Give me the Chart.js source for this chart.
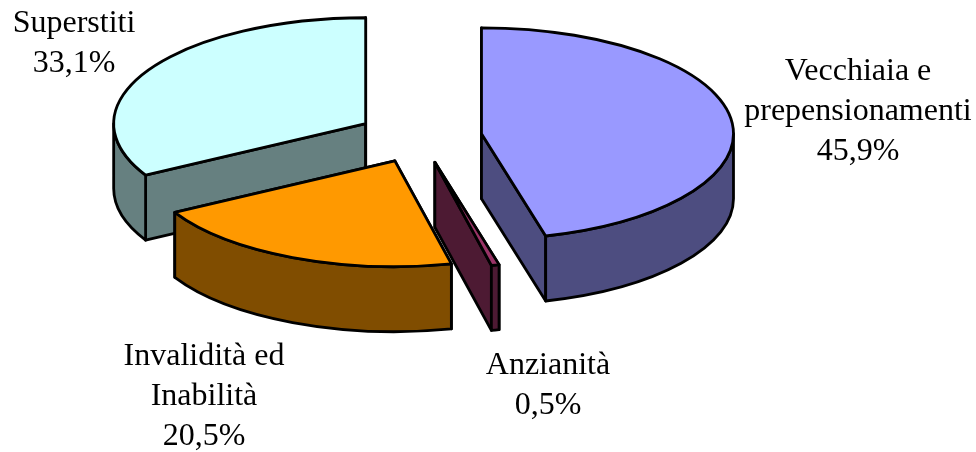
<!DOCTYPE html>
<html>
<head>
<meta charset="utf-8">
<script src="https://cdn.jsdelivr.net/npm/chart.js@4"></script>
<style>
  html, body { margin: 0; padding: 0; background: #fff; }
  canvas { display: block; }
</style>
</head>
<body>
<canvas id="chart" width="976" height="452"></canvas>
<script>
const categories = ["Vecchiaia e prepensionamenti", "Anzianità", "Invalidità ed Inabilità", "Superstiti"];
const values = [45.9, 0.5, 20.5, 33.1];
const topColors = ["#9999ff", "#993366", "#ff9900", "#ccffff"];
const sideColors = ["#4d4d80", "#4d1a33", "#804d00", "#668080"];

// label lines, centre x and first baseline, same order as categories
const labelLines = [["Vecchiaia e", "prepensionamenti"], ["Anzianità"], ["Invalidità ed", "Inabilità"], ["Superstiti"]];
const labelX = [858, 548, 204, 74];
const labelY = [80, 374, 365, 32];

const explode = [62, 62, 62, 63];  // distance each slice is pulled out of the pie
const tilt = 0.42;      // ellipse height / width
const depth = 65;
const lineHeight = 40;
const drawOrder = [3, 0, 2, 1]; // back to front

const pie3d = {
  id: "pie3d",
  beforeDatasetDraw(chart) {
    const ctx = chart.ctx;
    const arcs = chart.getDatasetMeta(0).data;
    ctx.save();
    ctx.lineWidth = 2.8;
    ctx.lineJoin = "round";
    ctx.strokeStyle = "#000";

    drawOrder.forEach((i) => {
      const arc = arcs[i];
      const r = arc.outerRadius;
      const mid = (arc.startAngle + arc.endAngle) / 2;
      const cx = arc.x + Math.cos(mid) * explode[i];
      const cy = arc.y + Math.sin(mid) * explode[i] * tilt;
      const corner = (a) => [cx + Math.cos(a) * r, cy + Math.sin(a) * r * tilt];

      // flat cut walls
      [arc.startAngle, arc.endAngle].forEach((a) => {
        const p = corner(a);
        ctx.beginPath();
        ctx.moveTo(cx, cy);
        ctx.lineTo(p[0], p[1]);
        ctx.lineTo(p[0], p[1] + depth);
        ctx.lineTo(cx, cy + depth);
        ctx.closePath();
        ctx.fillStyle = sideColors[i];
        ctx.fill();
        ctx.stroke();
      });

      // curved outer wall, only the part facing the viewer
      const from = Math.max(arc.startAngle, 0);
      const to = Math.min(arc.endAngle, Math.PI);
      if (to > from) {
        ctx.beginPath();
        ctx.ellipse(cx, cy, r, r * tilt, 0, from, to);
        ctx.ellipse(cx, cy + depth, r, r * tilt, 0, to, from, true);
        ctx.closePath();
        ctx.fillStyle = sideColors[i];
        ctx.fill();
        ctx.stroke();
      }

      // top face
      ctx.beginPath();
      ctx.moveTo(cx, cy);
      ctx.ellipse(cx, cy, r, r * tilt, 0, arc.startAngle, arc.endAngle);
      ctx.closePath();
      ctx.fillStyle = topColors[i];
      ctx.fill();
      ctx.stroke();
    });

    ctx.fillStyle = "#000";
    ctx.font = '32px "Liberation Serif"';
    ctx.textAlign = "center";
    ctx.textBaseline = "alphabetic";
    categories.forEach((c, i) => {
      const lines = labelLines[i].concat(values[i].toFixed(1).replace(".", ",") + "%");
      lines.forEach((t, n) => ctx.fillText(t, labelX[i], labelY[i] + n * lineHeight));
    });
    ctx.restore();
    return false; // slices are painted above, skip the flat pie
  }
};

new Chart(document.getElementById("chart"), {
  type: "pie",
  data: {
    labels: categories,
    datasets: [{ data: values, backgroundColor: topColors, borderWidth: 0 }]
  },
  options: {
    responsive: false,
    animation: false,
    radius: 252,
    layout: { padding: { left: 0, right: 136, top: 0, bottom: 178 } },
    plugins: { legend: { display: false }, tooltip: { enabled: false } }
  },
  plugins: [pie3d]
});
</script>
</body>
</html>
